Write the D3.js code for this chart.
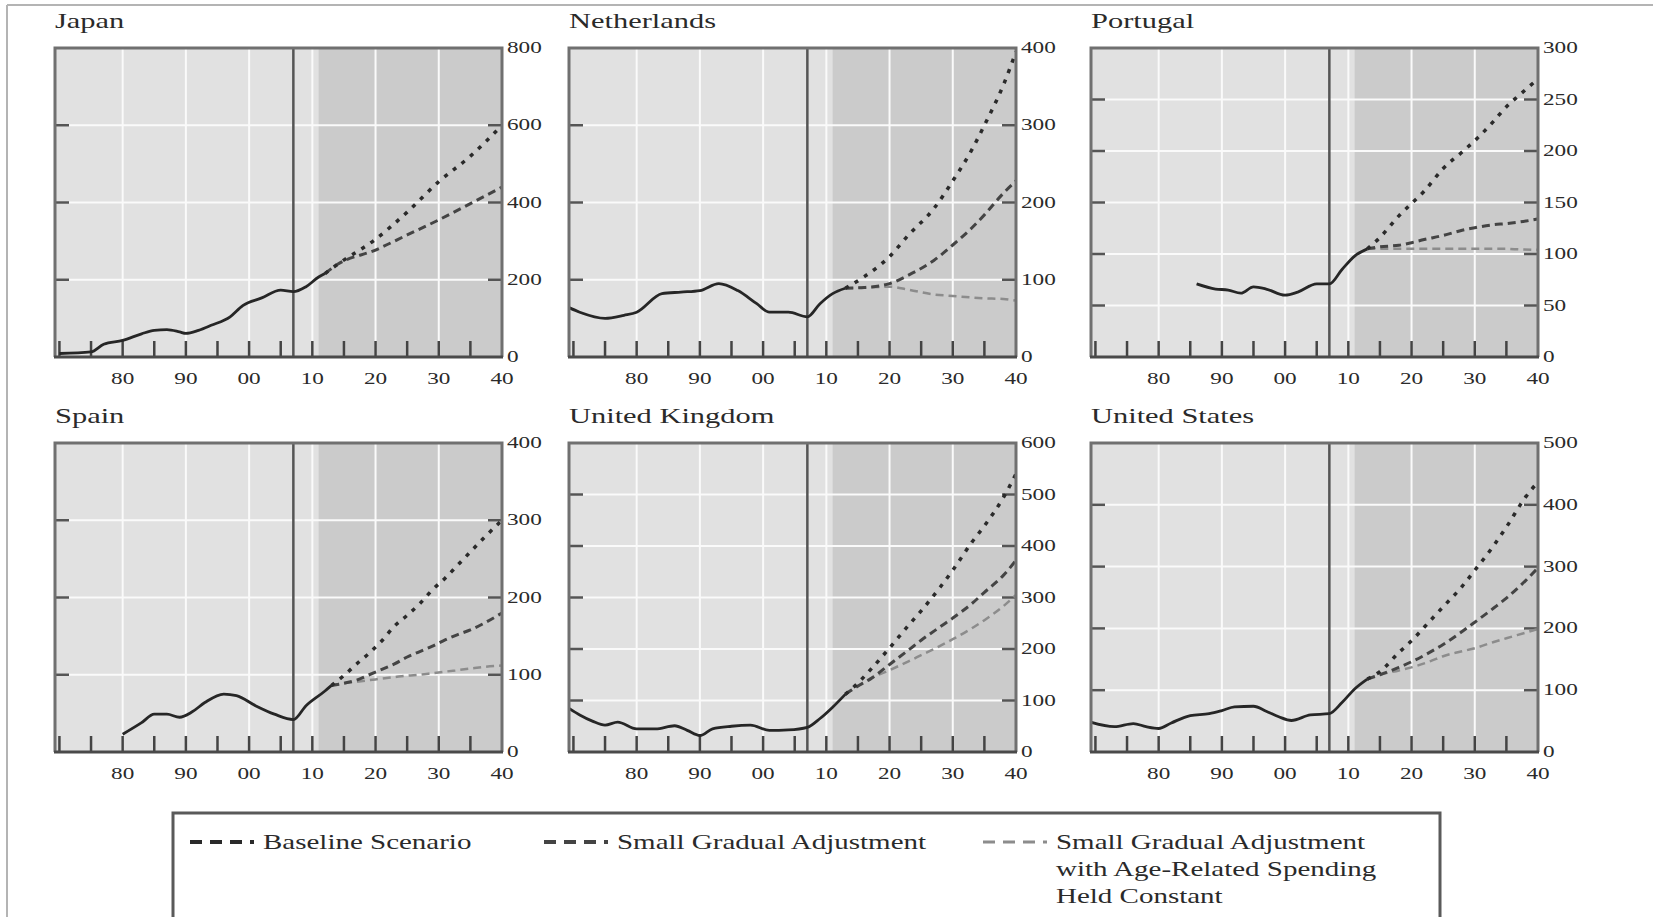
<!DOCTYPE html>
<html>
<head>
<meta charset="utf-8">
<script src="https://cdn.jsdelivr.net/npm/d3@7"></script>
<style>
  body { margin: 0; background: #fff; }
  svg { display: block; }
</style>
</head>
<body>
<svg id="chart"></svg>
<script>
// public debt, % of GDP
const xTickYears = [1980, 1990, 2000, 2010, 2020, 2030, 2040];
const xTickLabels = ["80", "90", "00", "10", "20", "30", "40"];
const legendLabels = [
  ["Baseline Scenario"],
  ["Small Gradual Adjustment"],
  ["Small Gradual Adjustment", "with Age-Related Spending", "Held Constant"]
];

const japanHistYears = [1970, 1975, 1977, 1980, 1983, 1985, 1987, 1989, 1990, 1992, 1994, 1997, 1999, 2002, 2005, 2007, 2009, 2011, 2012];
const japanHist = [9, 13, 33, 43, 60, 69, 71, 65, 61, 69, 82, 104, 133, 153, 173, 169, 182, 207, 216];
const japanProjYears = [2012, 2014, 2020, 2025, 2030, 2035, 2040];
const japanBaseline = [216, 240, 305, 375, 454, 520, 600];
const japanGradual = [216, 240, 277, 316, 355, 397, 440];

const nethHistYears = [1969, 1971, 1975, 1978, 1980, 1984, 1987, 1990, 1993, 1996, 1999, 2001, 2004, 2007, 2009, 2011, 2013];
const nethHist = [65, 58, 50, 54, 58, 82, 84, 86, 95, 86, 69, 58, 58, 52, 69, 82, 89];
const nethProjYears = [2013, 2016, 2020, 2023, 2027, 2030, 2033, 2035, 2038, 2040];
const nethBaseline = [89, 104, 130, 158, 192, 228, 268, 300, 352, 395];
const nethGradual = [89, 90, 95, 106, 125, 145, 167, 184, 212, 228];
const nethAgeConst = [89, 90, 91, 87, 81, 79, 77, 76, 75, 73];

const portHistYears = [1986, 1989, 1991, 1993, 1995, 1997, 2000, 2002, 2005, 2007, 2009, 2011, 2013];
const portHist = [71, 66, 65, 62, 68, 66, 60, 63, 71, 71, 85, 98, 105];
const portProjYears = [2013, 2015, 2018, 2020, 2022, 2025, 2028, 2030, 2033, 2035, 2037, 2040];
const portBaseline = [105, 116, 137, 149, 161, 183, 199, 210, 229, 243, 254, 270];
const portGradual = [105, 107, 108.5, 111, 114, 118, 123, 125.5, 128.5, 129.5, 131, 134];
const portAgeConst = [105, 105, 105, 105, 105, 105, 105, 105, 105, 105, 104.5, 104];

const spainHistYears = [1980, 1983, 1985, 1987, 1989, 1991, 1993, 1996, 1998, 2001, 2004, 2007, 2009, 2012, 2013];
const spainHist = [23, 38, 49, 49, 45, 52, 64, 75, 73, 60, 49, 42, 60, 79, 86];
const spainProjYears = [2013, 2015, 2017, 2019, 2021, 2023, 2025, 2027, 2029, 2031, 2033, 2035, 2037, 2040];
const spainBaseline = [86, 99, 114, 128, 144, 163, 177, 192, 210, 225, 242, 259, 276, 300];
const spainGradual = [86, 89, 93, 100, 107, 114, 123, 130, 137, 145, 152, 158, 166, 180];
const spainAgeConst = [86, 89, 91, 93, 95, 97, 99, 100, 102, 104, 106, 108, 110, 112];

const ukHistYears = [1969, 1971, 1973, 1975, 1977, 1980, 1983, 1986, 1988, 1990, 1992, 1995, 1998, 2001, 2004, 2007, 2009, 2011, 2013];
const ukHist = [87, 72, 60, 52, 58, 45, 45, 51, 42, 32, 45, 50, 52, 42, 43, 48, 65, 87, 112];
const ukProjYears = [2013, 2015, 2017, 2020, 2023, 2025, 2028, 2030, 2033, 2035, 2038, 2040];
const ukBaseline = [112, 134, 160, 202, 246, 274, 320, 353, 407, 439, 494, 540];
const ukGradual = [112, 128, 142, 170, 198, 217, 243, 260, 288, 310, 343, 372];
const ukAgeConst = [112, 128, 143, 159, 176, 188, 206, 219, 240, 256, 283, 305];

const usHistYears = [1969, 1973, 1976, 1978, 1980, 1982, 1985, 1988, 1990, 1992, 1995, 1997, 1999, 2001, 2004, 2007, 2009, 2011, 2013];
const usHist = [49, 41, 46, 41, 38, 47, 59, 62, 67, 73, 74, 66, 57, 51, 60, 62, 80, 102, 118];
const usProjYears = [2013, 2015, 2018, 2020, 2023, 2025, 2028, 2030, 2033, 2035, 2038, 2040];
const usBaseline = [118, 130, 161, 180, 213, 235, 268, 294, 334, 364, 412, 437];
const usGradual = [118, 125, 137, 146, 162, 174, 195, 210, 233, 249, 277, 298];
const usAgeConst = [118, 125, 132, 137, 147, 155, 163, 168, 178, 184, 193, 199];

const panels = [
  { name: "Japan", yMax: 800, yStep: 200, histYears: japanHistYears, hist: japanHist,
    projYears: japanProjYears, proj: [japanBaseline, japanGradual, null] },
  { name: "Netherlands", yMax: 400, yStep: 100, histYears: nethHistYears, hist: nethHist,
    projYears: nethProjYears, proj: [nethBaseline, nethGradual, nethAgeConst] },
  { name: "Portugal", yMax: 300, yStep: 50, histYears: portHistYears, hist: portHist,
    projYears: portProjYears, proj: [portBaseline, portGradual, portAgeConst] },
  { name: "Spain", yMax: 400, yStep: 100, histYears: spainHistYears, hist: spainHist,
    projYears: spainProjYears, proj: [spainBaseline, spainGradual, spainAgeConst] },
  { name: "United Kingdom", yMax: 600, yStep: 100, histYears: ukHistYears, hist: ukHist,
    projYears: ukProjYears, proj: [ukBaseline, ukGradual, ukAgeConst] },
  { name: "United States", yMax: 500, yStep: 100, histYears: usHistYears, hist: usHist,
    projYears: usProjYears, proj: [usBaseline, usGradual, usAgeConst] }
];

// line styles for the three scenarios
const projStyles = [
  { stroke: "#2a2a2a", width: 3.5, dash: "4,7" },
  { stroke: "#444", width: 3, dash: "8,5" },
  { stroke: "#8c8c8c", width: 2.5, dash: "8,5" }
];

const W = 1657, H = 917;
const colX = [55, 569, 1091];
const rowY = [48, 443];
const pw = 447, ph = 309;
const serif = "'Liberation Serif', 'DejaVu Serif', serif";
const sx = 1.45;

const svg = d3.select("#chart").attr("width", W).attr("height", H)
  .style("font-family", serif);

// outer frame
svg.append("line").attr("x1", 7).attr("x2", 1653).attr("y1", 5).attr("y2", 5)
  .attr("stroke", "#b4b4b4").attr("stroke-width", 2);
svg.append("line").attr("x1", 7).attr("x2", 7).attr("y1", 5).attr("y2", H)
  .attr("stroke", "#b4b4b4").attr("stroke-width", 2);

const stretchText = (sel, x, y, str, size, anchor) =>
  sel.append("text")
    .attr("transform", `translate(${x},${y}) scale(${sx},1)`)
    .attr("font-size", size)
    .attr("text-anchor", anchor || "start")
    .attr("fill", "#2a2a2a")
    .text(str);

panels.forEach((p, i) => {
  const left = colX[i % 3], top = rowY[Math.floor(i / 3)];
  const g = svg.append("g").attr("transform", `translate(${left},${top})`);
  const x = d3.scaleLinear().domain([1969.3, 2040]).range([0, pw]);
  const y = d3.scaleLinear().domain([0, p.yMax]).range([ph, 0]);
  const yTicks = d3.range(0, p.yMax + 1, p.yStep);

  const clipId = "clip" + i;
  g.append("clipPath").attr("id", clipId)
    .append("rect").attr("width", pw).attr("height", ph);

  // backgrounds
  g.append("rect").attr("width", pw).attr("height", ph).attr("fill", "#e1e1e1");
  g.append("rect").attr("x", x(2011)).attr("width", pw - x(2011)).attr("height", ph)
    .attr("fill", "#cbcbcb");

  // white grid
  g.selectAll(".vg").data(xTickYears.slice(0, -1)).enter().append("line")
    .attr("x1", d => x(d)).attr("x2", d => x(d)).attr("y1", 0).attr("y2", ph)
    .attr("stroke", "#fafafa").attr("stroke-width", 2);
  g.selectAll(".hg").data(yTicks.slice(1, -1)).enter().append("line")
    .attr("x1", 0).attr("x2", pw).attr("y1", d => y(d)).attr("y2", d => y(d))
    .attr("stroke", "#fafafa").attr("stroke-width", 2);

  // y tick marks on both sides
  yTicks.slice(1, -1).forEach(v => {
    g.append("line").attr("x1", 0).attr("x2", 14).attr("y1", y(v)).attr("y2", y(v))
      .attr("stroke", "#555").attr("stroke-width", 2.5);
    g.append("line").attr("x1", pw - 14).attr("x2", pw).attr("y1", y(v)).attr("y2", y(v))
      .attr("stroke", "#555").attr("stroke-width", 2.5);
  });

  // 5-year ticks along the bottom
  g.selectAll(".mt").data(d3.range(1970, 2040, 5)).enter().append("line")
    .attr("x1", d => x(d)).attr("x2", d => x(d)).attr("y1", ph - 16).attr("y2", ph)
    .attr("stroke", "#444").attr("stroke-width", 2.5);

  // 2007 divider
  g.append("line").attr("x1", x(2007)).attr("x2", x(2007)).attr("y1", 0).attr("y2", ph)
    .attr("stroke", "#555").attr("stroke-width", 2.5);

  const line = d3.line().x(d => x(d[0])).y(d => y(d[1])).curve(d3.curveMonotoneX);
  const lines = g.append("g").attr("clip-path", `url(#${clipId})`);

  // projections, lightest first
  [2, 1, 0].forEach(k => {
    if (!p.proj[k]) return;
    const s = projStyles[k];
    lines.append("path").datum(d3.zip(p.projYears, p.proj[k]))
      .attr("d", line).attr("fill", "none")
      .attr("stroke", s.stroke).attr("stroke-width", s.width)
      .attr("stroke-dasharray", s.dash);
  });
  lines.append("path").datum(d3.zip(p.histYears, p.hist))
    .attr("d", line).attr("fill", "none")
    .attr("stroke", "#262626").attr("stroke-width", 2.8);

  // frame
  g.append("path")
    .attr("d", `M0,${ph}V0H${pw}V${ph}`)
    .attr("fill", "none").attr("stroke", "#707070").attr("stroke-width", 3);
  g.append("line").attr("x1", -1).attr("x2", pw + 1).attr("y1", ph).attr("y2", ph)
    .attr("stroke", "#4a4a4a").attr("stroke-width", 3);

  // labels
  stretchText(g, 0, -20, p.name, 21);
  xTickYears.forEach((yr, j) =>
    stretchText(g, x(yr), ph + 27, xTickLabels[j], 16, "middle"));
  yTicks.forEach(v =>
    stretchText(g, pw + 5, y(v) + 5, String(v), 16, "start"));
});

// legend
const lg = svg.append("g");
lg.append("rect").attr("x", 173).attr("y", 813).attr("width", 1267).attr("height", 110)
  .attr("fill", "#fff").attr("stroke", "#5a5a5a").attr("stroke-width", 3);
const legendX = [190, 544, 983];
legendLabels.forEach((lines, k) => {
  const s = projStyles[k];
  lg.append("line").attr("x1", legendX[k]).attr("x2", legendX[k] + 64)
    .attr("y1", 842).attr("y2", 842)
    .attr("stroke", s.stroke).attr("stroke-width", k === 2 ? 3 : 4)
    .attr("stroke-dasharray", "12,8");
  lines.forEach((t, j) => stretchText(lg, legendX[k] + 73, 849 + j * 27, t, 20));
});
</script>
</body>
</html>
